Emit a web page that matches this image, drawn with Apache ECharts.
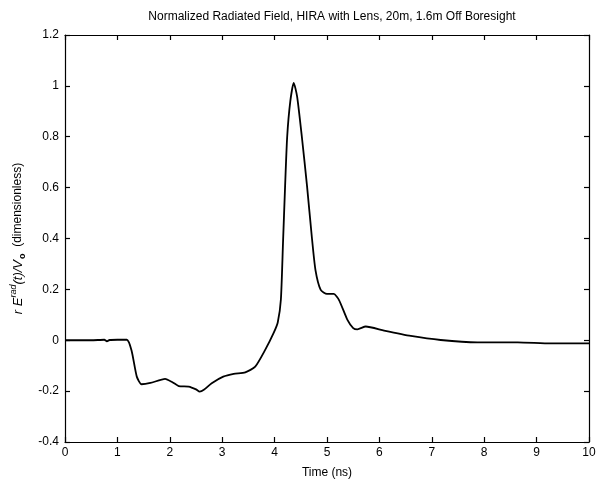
<!DOCTYPE html>
<html>
<head>
<meta charset="utf-8">
<script src="https://cdn.jsdelivr.net/npm/echarts@6/dist/echarts.min.js"></script>
<style>
  html, body { margin: 0; padding: 0; background: #fff; }
  #main { width: 608px; height: 487px; }
</style>
</head>
<body>
<div id="main"></div>
<script>
var times = [0, 0.5, 0.75, 0.8, 0.85, 1.0, 1.18, 1.27, 1.37, 1.46, 1.63, 1.91, 2.05, 2.17, 2.36, 2.5, 2.57, 2.65, 2.8, 3.02, 3.22, 3.44, 3.63, 3.82, 3.98, 4.06, 4.12, 4.16, 4.20, 4.24, 4.30, 4.365, 4.43, 4.52, 4.62, 4.71, 4.78, 4.88, 5.0, 5.13, 5.23, 5.39, 5.5, 5.58, 5.74, 6.09, 6.6, 7.17, 7.87, 8.64, 9.27, 10];
var field = [0, 0, 0.002, -0.004, 0.001, 0.002, 0.002, -0.04, -0.143, -0.173, -0.168, -0.152, -0.165, -0.18, -0.182, -0.193, -0.202, -0.195, -0.169, -0.143, -0.132, -0.126, -0.104, -0.038, 0.028, 0.07, 0.16, 0.38, 0.604, 0.80, 0.94, 1.012, 0.958, 0.80, 0.604, 0.407, 0.276, 0.198, 0.182, 0.182, 0.158, 0.08, 0.048, 0.043, 0.054, 0.038, 0.017, 0.001, -0.008, -0.008, -0.012, -0.012];
var xTicks = [0, 1, 2, 3, 4, 5, 6, 7, 8, 9, 10];
var yTicks = [-0.4, -0.2, 0, 0.2, 0.4, 0.6, 0.8, 1, 1.2];

var chart = echarts.init(document.getElementById('main'));

var pts = times.map(function (t, i) { return [t, field[i]]; });

var fontBase = 'Arial, "Liberation Sans", sans-serif';
var axisLine = { show: true, onZero: false, lineStyle: { color: '#000', width: 1.2 } };
var tick = { show: true, inside: true, length: 5, lineStyle: { color: '#000', width: 1.2 } };

var option = {
    backgroundColor: '#fff',
    animation: false,
    title: {
        text: 'Normalized Radiated Field, HIRA with Lens, 20m, 1.6m Off Boresight',
        left: 327,
        textAlign: 'center',
        top: 6,
        textStyle: { fontFamily: fontBase, fontSize: 12, fontWeight: 'normal', color: '#000' }
    },
    grid: { left: 65, right: 19, top: 35, bottom: 45 },
    xAxis: [{
        type: 'value',
        min: 0, max: 10, interval: 1,
        axisLine: axisLine,
        axisTick: tick,
        splitLine: { show: false },
        axisLabel: {
            color: '#000', fontFamily: fontBase, fontSize: 12, margin: 5,
            formatter: function (v) { return xTicks.indexOf(v) >= 0 ? String(v) : ''; }
        },
        name: 'Time (ns)',
        nameLocation: 'middle',
        nameGap: 25,
        nameTextStyle: { color: '#000', fontFamily: fontBase, fontSize: 12 }
    }, {
        type: 'value', position: 'top',
        min: 0, max: 10, interval: 1,
        axisLine: axisLine, axisTick: tick,
        axisLabel: { show: false }, splitLine: { show: false }
    }],
    yAxis: [{
        type: 'value',
        min: -0.4, max: 1.2, interval: 0.2,
        axisLine: axisLine,
        axisTick: tick,
        splitLine: { show: false },
        axisLabel: {
            color: '#000', fontFamily: fontBase, fontSize: 12, margin: 6,
            formatter: function (v) {
                var r = Math.round(v * 10) / 10;
                return yTicks.indexOf(r) >= 0 ? String(r) : '';
            }
        },
        name: '{it|r E}{sup|rad}{it|(t)/V}{sub|o}{n|  (dimensionless)}',
        nameLocation: 'middle',
        nameGap: 38,
        nameTextStyle: {
            color: '#000', fontFamily: fontBase, fontSize: 12,
            rich: {
                it: { fontStyle: 'italic', fontSize: 13, fontFamily: fontBase, color: '#000', lineHeight: 18, verticalAlign: 'middle' },
                sup: { fontStyle: 'italic', fontSize: 9, fontFamily: fontBase, color: '#000', lineHeight: 18, verticalAlign: 'top', padding: [0, 0, 8, 0] },
                sub: { fontSize: 9, fontFamily: fontBase, color: '#000', fontWeight: 'bold', lineHeight: 18, verticalAlign: 'bottom', padding: [8, 0, 0, 1] },
                n: { fontSize: 12, fontFamily: fontBase, color: '#000', lineHeight: 18, verticalAlign: 'middle' }
            }
        }
    }, {
        type: 'value', position: 'right',
        min: -0.4, max: 1.2, interval: 0.2,
        axisLine: axisLine, axisTick: tick,
        axisLabel: { show: false }, splitLine: { show: false }
    }],
    series: [{
        type: 'line',
        data: pts,
        showSymbol: false,
        smooth: 0.2,
        lineStyle: { color: '#000', width: 1.8 }
    }]
};

chart.setOption(option);
</script>
</body>
</html>
